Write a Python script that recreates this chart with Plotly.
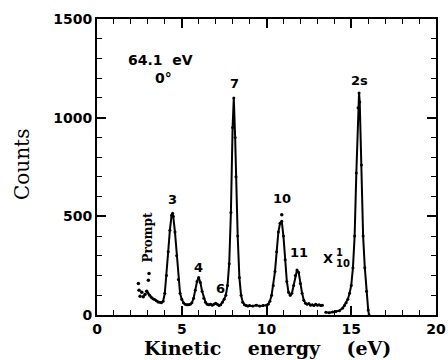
import plotly.graph_objects as go

# main spectrum (counts)
energy_main = [3.0, 3.1, 3.2, 3.3, 3.4, 3.5, 3.6, 3.7, 3.8, 3.9, 4.0, 4.1, 4.2, 4.3, 4.4, 4.46,
               4.5, 4.6, 4.7, 4.8, 4.9, 5.0, 5.1, 5.2, 5.3, 5.4, 5.5, 5.6, 5.7, 5.8, 5.9, 6.0,
               6.1, 6.2, 6.3, 6.4, 6.5, 6.6, 6.7, 6.8, 6.9, 7.0, 7.1, 7.2, 7.3, 7.4, 7.5, 7.6,
               7.7, 7.8, 7.9, 8.0, 8.07, 8.15, 8.2, 8.3, 8.4, 8.5, 8.6, 8.7, 8.8, 8.9, 9.0, 9.2,
               9.4, 9.6, 9.8, 10.0, 10.1, 10.2, 10.3, 10.4, 10.5, 10.6, 10.7, 10.8, 10.9, 11.0,
               11.1, 11.2, 11.3, 11.4, 11.5, 11.6, 11.7, 11.8, 11.9, 12.0, 12.1, 12.2, 12.3,
               12.4, 12.5, 12.6, 12.7, 12.8, 12.9, 13.0, 13.1, 13.2, 13.3]
counts_main = [112, 100, 90, 82, 78, 72, 66, 64, 62, 70, 110, 200, 320, 430, 505, 515,
               500, 420, 300, 180, 110, 80, 62, 55, 52, 52, 55, 62, 85, 125, 170, 190,
               165, 120, 85, 65, 55, 52, 55, 50, 55, 60, 55, 48, 52, 65, 80, 100,
               150, 260, 520, 950, 1100, 900, 700, 400, 190, 100, 65, 52, 48, 45, 48, 45,
               50, 45, 48, 50, 55, 70, 100, 150, 220, 320, 420, 465, 475, 400,
               280, 170, 115, 100, 110, 150, 200, 228, 215, 160, 110, 75, 60,
               55, 58, 50, 52, 48, 55, 50, 52, 48, 50]

# 2s peak, scaled x 1/10
energy_2s = [13.5, 13.7, 13.9, 14.1, 14.3, 14.5, 14.6, 14.7, 14.8, 14.9, 15.0, 15.1, 15.2,
             15.3, 15.4, 15.46, 15.5, 15.6, 15.7, 15.8, 15.9, 16.0, 16.05]
counts_2s = [14, 12, 15, 18, 22, 35, 48, 62, 80, 110, 150, 240, 400,
             720, 1050, 1125, 1080, 760, 400, 240, 120, 25, 0]

# isolated points (prompt region and top of peak 10)
energy_pts = [2.44, 3.07, 3.03, 2.48, 2.64, 2.83, 2.93, 2.54, 2.73, 10.9]
counts_pts = [159, 210, 176, 126, 115, 104, 120, 95, 92, 508]

peak_labels = ["3", "4", "6", "7", "10", "11", "2s"]
label_x = [4.46, 5.98, 7.26, 8.12, 10.94, 11.92, 15.46]
label_y = [584, 242, 133, 1171, 588, 315, 1188]

xtick_vals = [0, 5, 10, 15, 20]
ytick_vals = [0, 500, 1000, 1500]

fig = go.Figure()
line_style = dict(color="black", width=2)
fig.add_trace(go.Scatter(x=energy_main, y=counts_main, mode="lines+markers",
                         line=line_style, marker=dict(size=3, color="black"),
                         showlegend=False))
fig.add_trace(go.Scatter(x=energy_2s, y=counts_2s, mode="lines+markers",
                         line=line_style, marker=dict(size=3, color="black"),
                         showlegend=False))
fig.add_trace(go.Scatter(x=energy_pts, y=counts_pts, mode="markers",
                         marker=dict(size=3.5, color="black"), showlegend=False))

bold = dict(family="DejaVu Sans", size=13, color="black")
for t, x, y in zip(peak_labels, label_x, label_y):
    fig.add_annotation(x=x, y=y, text="<b>%s</b>" % t, showarrow=False, font=bold)

fig.add_annotation(x=3.72, y=1293, text="<b>64.1  eV</b>", showarrow=False,
                   font=dict(family="DejaVu Sans", size=14, color="black"))
fig.add_annotation(x=3.9, y=1202, text="<b>0°</b>", showarrow=False,
                   font=dict(family="DejaVu Sans", size=14, color="black"))
fig.add_annotation(x=3.0, y=392, text="<b>Prompt</b>", textangle=-90, showarrow=False,
                   font=dict(family="DejaVu Serif", size=12, color="black"))
fig.add_annotation(x=13.6, y=288, text="<b>X</b>", showarrow=False,
                   font=dict(family="DejaVu Sans", size=13, color="black"))
fig.add_annotation(x=14.3, y=318, text="<b>1</b>", showarrow=False,
                   font=dict(family="DejaVu Sans", size=10, color="black"))
fig.add_annotation(x=14.5, y=262, text="<b>10</b>", showarrow=False,
                   font=dict(family="DejaVu Sans", size=10, color="black"))

fig.add_annotation(xref="paper", yref="paper", x=-0.221, y=0.507, text="Counts",
                   textangle=-90, showarrow=False, xanchor="center", yanchor="middle",
                   font=dict(family="DejaVu Serif", size=20, color="black"))
fig.add_annotation(xref="paper", yref="paper", x=0.504, y=-0.112,
                   text="<b>Kinetic    energy    (eV)</b>", showarrow=False,
                   xanchor="center", yanchor="middle",
                   font=dict(family="DejaVu Serif", size=19, color="black"))

axis_common = dict(showgrid=False, zeroline=False, showline=True, linecolor="black",
                   linewidth=2, mirror="ticks", ticks="inside", ticklen=9, tickwidth=1.5,
                   tickcolor="black", automargin=False,
                   tickfont=dict(family="DejaVu Sans", size=14, color="black"))
fig.update_xaxes(range=[0, 20], tickvals=xtick_vals, ticktext=["<b>%d</b>" % v for v in xtick_vals],
                 minor=dict(dtick=1, ticks="inside", ticklen=5, tickcolor="black", tickwidth=1.2),
                 **axis_common)
fig.update_yaxes(range=[0, 1500], tickvals=ytick_vals, ticktext=["<b>%d</b>" % v for v in ytick_vals],
                 minor=dict(dtick=100, ticks="inside", ticklen=5, tickcolor="black", tickwidth=1.2),
                 **axis_common)

fig.update_layout(width=448, height=360, margin=dict(l=97, r=12, t=19, b=45),
                  plot_bgcolor="white", paper_bgcolor="white")
fig.write_html("out.html")
